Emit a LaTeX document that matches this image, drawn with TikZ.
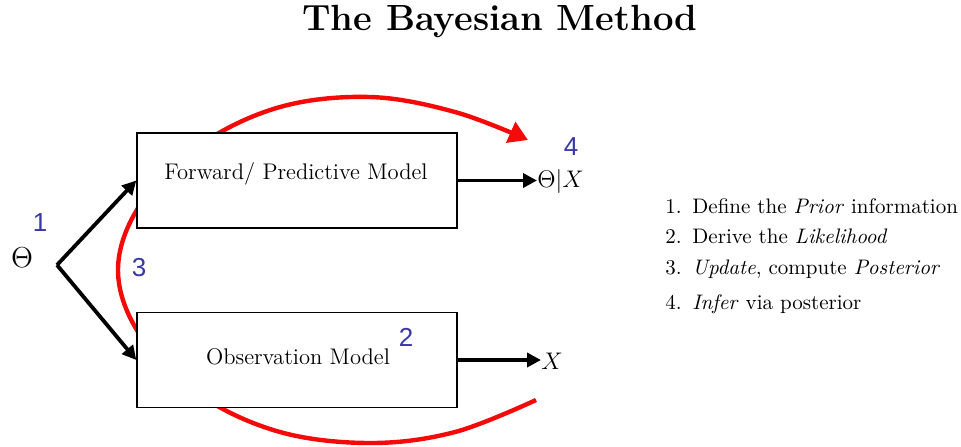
\documentclass[tikz,border=0pt]{standalone}
\usepackage{fontspec}
\newfontfamily\numfont{Liberation Sans}
\usepackage{xcolor}
\usepackage{tikz}
\usetikzlibrary{arrows.meta, positioning}
\definecolor{numblue}{RGB}{55,55,165}
\definecolor{loopred}{RGB}{245,10,10}

\begin{document}
\begin{tikzpicture}[x=0.5pt, y=-0.5pt,
  model/.style={draw, line width=0.7pt, fill=white, minimum width=160pt, minimum height=47.5pt, inner sep=0pt},
  modeltext/.style={font=\fontsize{11.3}{13}\selectfont, inner sep=0pt},
  flow/.style={-{Triangle[length=7pt, width=7pt]}, line width=1.9pt},
  update/.style={-{Triangle[length=9.5pt, width=11pt]}, line width=2.2pt, color=loopred},
  stepnum/.style={font=\numfont\fontsize{13}{13}\selectfont, text=numblue, inner sep=0pt},
  symb/.style={font=\large, inner sep=0pt},
  listitem/.style={anchor=base west, font=\fontsize{10.5}{13}\selectfont, inner sep=0pt},
]
  \useasboundingbox (0,0) rectangle (961,446);
  \node[font=\bfseries\fontsize{18.2}{20}\selectfont] (title) at (500,22) {The Bayesian Method};

  % red loop first, the boxes hide part of it
  \draw[update] plot[smooth, tension=0.6] coordinates {(536,400) (455,432) (371,443) (280,432) (200,395) (140,335) (118,270) (140,205) (200,145) (280,107) (370,97) (455,112) (528,140)};

  \node[model] (fwd) at (297,180.5) {};
  \node[modeltext] (fwdtext) at (296,174) {Forward/ Predictive Model};
  \node[model] (obs) at (297,360) {};
  \node[modeltext] (obstext) at (298,357) {Observation Model};

  \node[symb, font=\Large] (theta) at (22,258) {$\Theta$};
  \coordinate (fork) at (57,265);
  \node[symb, anchor=west] (post) at (537,181) {$\Theta|X$};
  \node[symb, anchor=west] (xout) at (541,361) {$X$};

  \draw[flow] (fork) -- (fwd.west);
  \draw[flow] (fork) -- (obs.west);
  \draw[flow] (fwd.east) -- (fwd.east -| post.west);
  \draw[flow] (obs.east) -- (obs.east -| xout.west);

  \node[stepnum] (n1) at (40,223) {1};
  \node[stepnum] (n2) at (406,337) {2};
  \node[stepnum] (n3) at (139,268) {3};
  \node[stepnum] (n4) at (571,147) {4};

  \foreach \n/\y/\t in {1/213/{Define the \emph{Prior} information}, 2/243/{Derive the \emph{Likelihood}},
                        3/274/{\emph{Update}, compute \emph{Posterior}}, 4/309/{\emph{Infer} via posterior}} {
    \node[listitem] (item\n) at (665,\y) {\makebox[13.5pt][l]{\n.}\t};
  }
\end{tikzpicture}
\end{document}
